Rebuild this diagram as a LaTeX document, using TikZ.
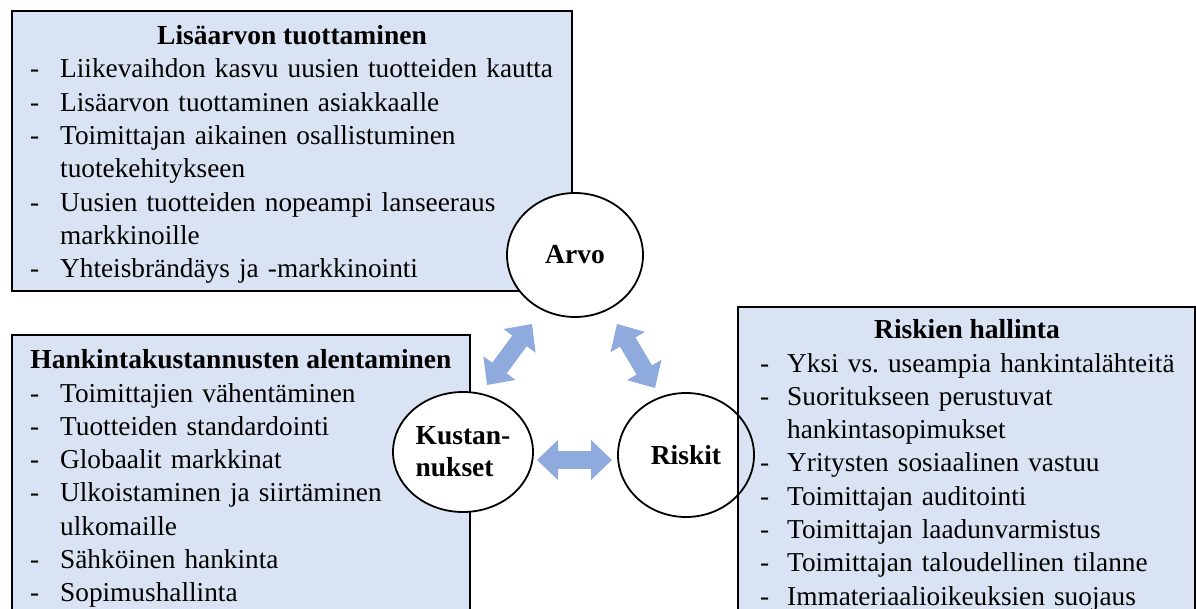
\documentclass[tikz,border=0pt]{standalone}
\usepackage{fontspec}
\setmainfont{Liberation Serif}
\usetikzlibrary{shapes.geometric,arrows.meta}
\definecolor{boxfill}{HTML}{DAE3F3}
\definecolor{arrowblue}{HTML}{8FAADC}
\newcommand\itm[2][30pt]{\makebox[#1][l]{-}#2}
\frenchspacing
\begin{document}
\begin{tikzpicture}[x=1pt,y=-1pt,
  box/.style={draw=black, line width=1.5pt, fill=boxfill, anchor=north west, inner sep=0pt, outer sep=0pt},
  hub/.style={ellipse, draw=black, line width=1.8pt, inner sep=0pt, minimum width=136pt, minimum height=124pt, align=left, font=\fontsize{27.5}{32}\selectfont\bfseries},
  boxtitle/.style={anchor=base, inner sep=0pt, font=\fontsize{27.5}{33.3}\selectfont\bfseries},
  items/.style={anchor=base west, inner sep=0pt, align=left, text width=#1, font=\fontsize{27.3}{33.3}\selectfont\frenchspacing},
  link/.style={line width=18pt, draw=arrowblue,
    {Triangle[length=21pt,width=40pt,line width=0pt,fill=arrowblue]}-{Triangle[length=21pt,width=40pt,line width=0pt,fill=arrowblue]}}
]
\useasboundingbox (0,0) rectangle (1196,609);
\clip (0,0) rectangle (1196,609);

% top box
\node[box, minimum width=560pt, minimum height=280pt] (vbox) at (12,11) {};
\node[boxtitle] (vtitle) at (292,45) {Lisäarvon tuottaminen};
\node[items=600pt] (vlist) at (30,78) {%
\itm{Liikevaihdon kasvu uusien tuotteiden kautta}\\
\itm{Lisäarvon tuottaminen asiakkaalle}\\
\itm{Toimittajan aikainen osallistuminen}\\
\hspace*{30pt}tuotekehitykseen\\
\itm{Uusien tuotteiden nopeampi lanseeraus}\\
\hspace*{30pt}markkinoille\\
\itm{Yhteisbrändäys ja -markkinointi}};

\node[hub, fill=white] (arvo) at (575,255) {Arvo};

% left box
\node[box, minimum width=458pt, minimum height=300pt] (kbox) at (12,335) {};
\node[boxtitle] (ktitle) at (241,368) {Hankintakustannusten alentaminen};
\node[items=500pt] (klist) at (30,402) {%
\itm{Toimittajien vähentäminen}\\
\itm{Tuotteiden standardointi}\\
\itm{Globaalit markkinat}\\
\itm{Ulkoistaminen ja siirtäminen}\\
\hspace*{30pt}ulkomaille\\
\itm{Sähköinen hankinta}\\
\itm{Sopimushallinta}};

\node[hub, fill=white, minimum width=140pt, minimum height=120pt] (kust) at (463,452) {Kustan-\\nukset};

% arrows
\coordinate (h1) at (537,460);
\coordinate (h2) at (612,460);
\coordinate (l1) at (487,385);
\coordinate (l2) at (532,324);
\coordinate (r1) at (617,324);
\coordinate (r2) at (655,388);
\draw[link] (l1) -- (l2);
\draw[link] (r1) -- (r2);
\draw[link] (h1) -- (h2);

% right box
\node[box, minimum width=457pt, minimum height=320pt] (rbox) at (738,307) {};
\node[boxtitle] (rtitle) at (967,338) {Riskien hallinta};
\node[items=500pt] (rlist) at (760,372) {%
\itm[27pt]{Yksi vs. useampia hankintalähteitä}\\
\itm[27pt]{Suoritukseen perustuvat}\\
\hspace*{27pt}hankintasopimukset\\
\itm[27pt]{Yritysten sosiaalinen vastuu}\\
\itm[27pt]{Toimittajan auditointi}\\
\itm[27pt]{Toimittajan laadunvarmistus}\\
\itm[27pt]{Toimittajan taloudellinen tilanne}\\
\itm[27pt]{Immateriaalioikeuksien suojaus}};

\node[hub] (riskit) at (686,455) {Riskit};
\end{tikzpicture}
\end{document}
